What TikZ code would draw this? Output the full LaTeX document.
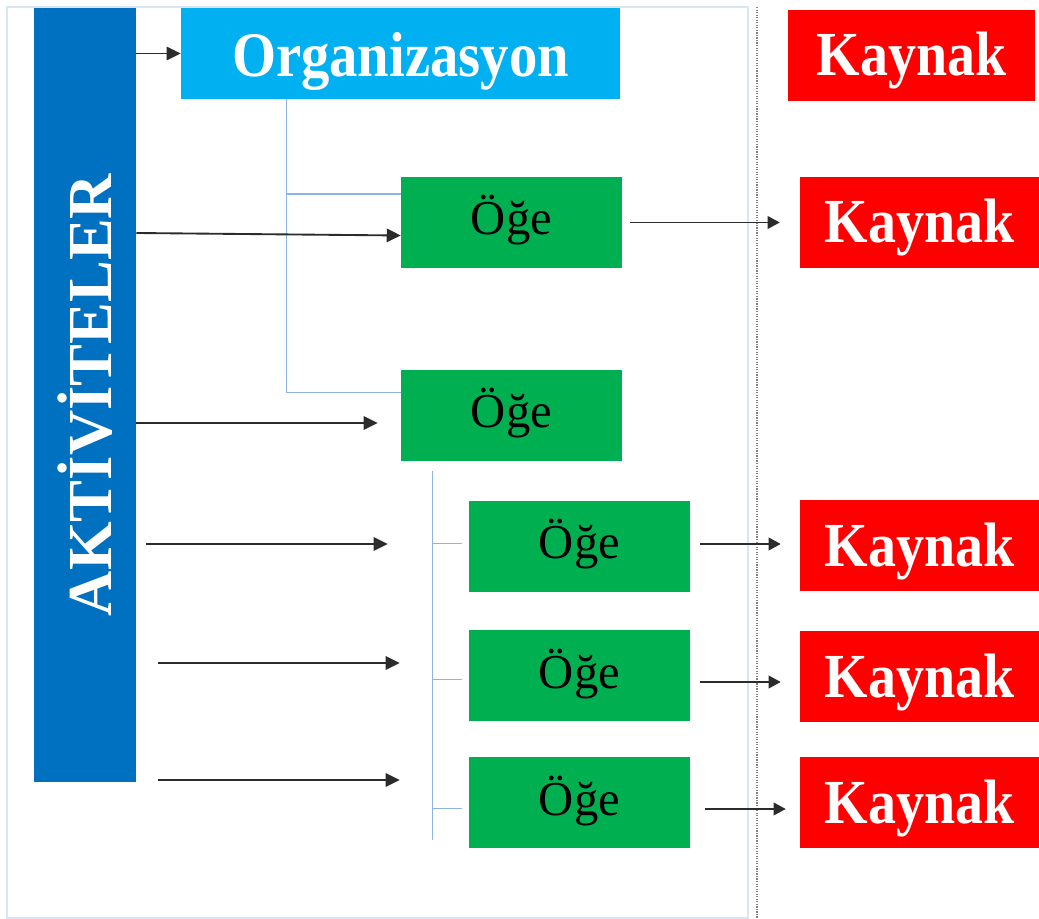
\documentclass[tikz,border=0pt]{standalone}
\usepackage{fontspec}
\setmainfont{Liberation Serif}
\usetikzlibrary{arrows.meta,calc}

\definecolor{barblue}{HTML}{0070C0}
\definecolor{orgblue}{HTML}{00B0F0}
\definecolor{itemgreen}{HTML}{00B050}
\definecolor{resred}{HTML}{FF0000}
\definecolor{treeblue}{HTML}{8EB4E3}
\definecolor{frameblue}{HTML}{DAE5F3}
\definecolor{arrowgrey}{HTML}{2B2B2B}

% tall lettering for the headline boxes
\newcommand{\tallword}[1]{\scalebox{1}[1.12]{#1}}

\tikzset{
  box/.style={rectangle, inner sep=0pt, draw=none},
  actbox/.style={box, fill=barblue, minimum width={102*0.75pt}, minimum height={774*0.75pt}},
  orgbox/.style={box, fill=orgblue, minimum width={439*0.75pt}, minimum height={91*0.75pt},
    text=white, font=\fontsize{42.5}{46}\selectfont\bfseries,
    text height=35.25pt, text depth=0pt},
  itembox/.style={box, fill=itemgreen, minimum width={221*0.75pt}, minimum height={91*0.75pt},
    text=black, font=\fontsize{36.5}{40}\selectfont,
    text height=24pt, text depth=5.25pt},
  resbox/.style={box, fill=resred, minimum width={239*0.75pt}, minimum height={91*0.75pt},
    text=white, font=\fontsize{42}{46}\selectfont\bfseries,
    text height=30.75pt, text depth=0pt},
  tree/.style={draw=treeblue, line width=1.1pt},
  arr/.style={draw=arrowgrey, line width=1.4pt, -{Triangle[length=10.5pt,width=10pt]}},
  arrthin/.style={draw=arrowgrey, line width=1.05pt, -{Triangle[length=9pt,width=9.5pt]}},
}

\begin{document}
\begin{tikzpicture}[x=0.75pt,y=-0.75pt]
\useasboundingbox (0,0) rectangle (1039,919);

% outer frame and separator
\draw[frameblue, line width=1.1pt] (7,7) rectangle (748,918);
\draw[gray, line width=0.9pt, densely dotted] (757,7) -- (757,919);

% activity bar
\node[actbox] (akt) at (85,395) {};
\node[rotate=90, text=white, font=\fontsize{47}{50}\selectfont\bfseries] (akttext) at (akt.center) {AKTİVİTELER};

% organisation and items
\node[orgbox] (org) at (400.5,53.5) {\tallword{Organizasyon}};
\node[itembox] (o1) at (511.5,222.5) {Öğe};
\node[itembox] (o2) at (511.5,415.5) {Öğe};
\node[itembox] (o3) at (579.5,546.5) {Öğe};
\node[itembox] (o4) at (579.5,675.5) {Öğe};
\node[itembox] (o5) at (579.5,802.5) {Öğe};

% resources
\node[resbox, minimum width={247*0.75pt}] (k1) at (911.5,55.5) {\tallword{Kaynak}};
\node[resbox] (k2) at (919.5,222.5) {\tallword{Kaynak}};
\node[resbox] (k3) at (919.5,545.5) {\tallword{Kaynak}};
\node[resbox] (k4) at (919.5,676.5) {\tallword{Kaynak}};
\node[resbox] (k5) at (919.5,802.5) {\tallword{Kaynak}};

% hierarchy lines
\coordinate (ta) at ($(org.south west)+(106,0)$);
\draw[tree] (ta) |- ($(o1.north west)!0.19!(o1.south west)$);
\draw[tree] (ta) |- ($(o2.north west)!0.25!(o2.south west)$);
\coordinate (tb) at ($(o2.south west)+(32,10)$);
\coordinate (tc) at ($(o5.south west)+(-36,-8)$);
\draw[tree] (tb) -- (tc);
\draw[tree] ($(o3.west)+(-36,-3)$) -- ++(29,0);
\draw[tree] ($(o4.west)+(-36,4)$) -- ++(29,0);
\draw[tree] ($(o5.west)+(-36,6)$) -- ++(29,0);

% activity arrows
\draw[arr] (akt.east |- org.west) -- (org.west);
\draw[arr] ($(akt.east)+(0,-162)$) -- ($(o1.west)+(0,13)$);
\draw[arr] ($(akt.east)+(0,28)$) -- ($(o2.west)+(-23,7.5)$);
\draw[arr] ($(akt.east)+(10,149)$) -- ($(o3.west)+(-81,-2.5)$);
\draw[arr] ($(akt.east)+(22,268)$) -- ($(o4.west)+(-69,-12.5)$);
\draw[arr] ($(akt.east)+(22,385)$) -- ($(o5.west)+(-69,-22.5)$);

% resource arrows
\draw[arrthin] ($(o1.east)+(8,0)$) -- ($(k2.west)+(-20,0)$);
\draw[arrthin] ($(o3.east)+(10,-2.5)$) -- ($(k3.west)+(-19,-1.5)$);
\draw[arrthin] ($(o4.east)+(10,6.5)$) -- ($(k4.west)+(-19,5.5)$);
\draw[arrthin] ($(o5.east)+(15,6.5)$) -- ($(k5.west)+(-14,6.5)$);
\end{tikzpicture}
\end{document}
